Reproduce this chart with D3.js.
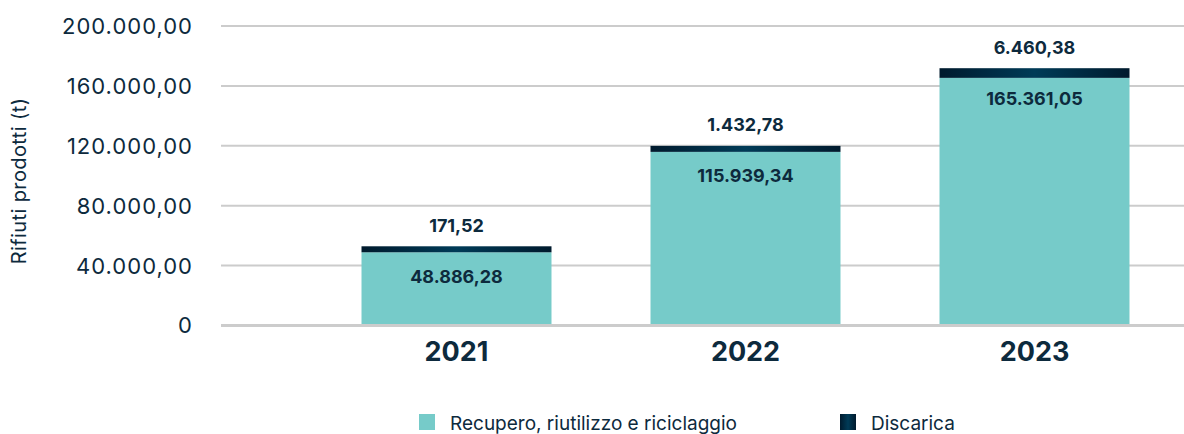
<!DOCTYPE html>
<html>
<head>
<meta charset="utf-8">
<script src="https://cdn.jsdelivr.net/npm/d3@7"></script>
<style>
  html, body { margin: 0; padding: 0; background: #fff; }
  svg { display: block; font-family: Inter, "Noto Sans", sans-serif; }
</style>
</head>
<body>
<svg id="chart" width="1184" height="434"></svg>
<script>
// Waste produced per year, in tonnes
const years = ["2021", "2022", "2023"];
const recupero = [48886.28, 115939.34, 165361.05];
const discarica = [171.52, 1432.78, 6460.38];
const yTicks = [0, 40000, 80000, 120000, 160000, 200000];
const seriesNames = ["Recupero, riutilizzo e riciclaggio", "Discarica"];

const textColor = "#0d2a3d";
const teal = "#76cbc9";
const gridColor = "#cccccc";

const it = d3.formatLocale({ decimal: ",", thousands: ".", grouping: [3], currency: ["€", ""] });
const fmt = it.format(",.2f");
const tickFmt = d => d === 0 ? "0" : fmt(d);

const svg = d3.select("#chart");

// Horizontal gradient for the landfill segment
const defs = svg.append("defs");
const grad = defs.append("linearGradient").attr("id", "darkGrad")
  .attr("x1", "0%").attr("x2", "100%").attr("y1", "0%").attr("y2", "0%");
grad.append("stop").attr("offset", "0%").attr("stop-color", "#001a2d");
grad.append("stop").attr("offset", "50%").attr("stop-color", "#003b57");
grad.append("stop").attr("offset", "100%").attr("stop-color", "#001a2d");

const x = d3.scaleBand().domain(years).range([312, 1179])
  .paddingInner(0.3426).paddingOuter(0.1713);
const y = d3.scaleLinear().domain([0, 200000]).range([325.5, 26]);

// Grid lines
svg.append("g").selectAll("line").data(yTicks).join("line")
  .attr("x1", 221).attr("x2", 1184)
  .attr("y1", d => y(d)).attr("y2", d => y(d))
  .attr("stroke", gridColor)
  .attr("stroke-width", d => d === 0 ? 3 : 2);

// Y axis labels
svg.append("g").selectAll("text").data(yTicks).join("text")
  .attr("x", 193).attr("y", d => y(d))
  .attr("dy", "0.36em")
  .attr("text-anchor", "end")
  .attr("font-size", 22)
  .attr("letter-spacing", "1px")
  .attr("fill", textColor)
  .text(tickFmt);

// Y axis title
svg.append("text")
  .attr("transform", "translate(26,181) rotate(-90)")
  .attr("text-anchor", "middle")
  .attr("font-size", 20)
  .attr("letter-spacing", "0.4px")
  .attr("fill", textColor)
  .text("Rifiuti prodotti (t)");

const rows = years.map((yr, i) => ({ yr, rec: recupero[i], dis: discarica[i] }));
const minSeg = 6; // keep thin landfill segments visible

const bars = svg.append("g").selectAll("g").data(rows).join("g");

bars.append("rect")
  .attr("x", d => x(d.yr))
  .attr("width", x.bandwidth())
  .attr("y", d => y(d.rec))
  .attr("height", d => y(0) - y(d.rec) - 1.5)
  .attr("fill", teal);

const segTop = d => Math.min(y(d.rec + d.dis), y(d.rec) - minSeg);

bars.append("rect")
  .attr("x", d => x(d.yr))
  .attr("width", x.bandwidth())
  .attr("y", segTop)
  .attr("height", d => y(d.rec) - segTop(d))
  .attr("fill", "url(#darkGrad)");

// Value labels
bars.append("text")
  .attr("x", d => x(d.yr) + x.bandwidth() / 2)
  .attr("y", d => segTop(d) + 30)
  .attr("dy", "0.36em")
  .attr("text-anchor", "middle")
  .attr("font-size", 18).attr("font-weight", 700)
  .attr("fill", textColor)
  .text(d => fmt(d.rec));

bars.append("text")
  .attr("x", d => x(d.yr) + x.bandwidth() / 2)
  .attr("y", d => segTop(d) - 21)
  .attr("dy", "0.36em")
  .attr("text-anchor", "middle")
  .attr("font-size", 18).attr("font-weight", 700)
  .attr("fill", textColor)
  .text(d => fmt(d.dis));

// Category labels
svg.append("g").selectAll("text").data(years).join("text")
  .attr("x", d => x(d) + x.bandwidth() / 2)
  .attr("y", 351)
  .attr("dy", "0.36em")
  .attr("text-anchor", "middle")
  .attr("font-size", 27).attr("font-weight", 700)
  .attr("fill", textColor)
  .text(d => d);

// Legend
const legendX = [419, 840];
const legendFill = [teal, "url(#darkGrad)"];
const legend = svg.append("g").selectAll("g").data(seriesNames).join("g")
  .attr("transform", (d, i) => `translate(${legendX[i]},414)`);
legend.append("rect").attr("width", 16).attr("height", 16)
  .attr("fill", (d, i) => legendFill[i]);
legend.append("text").attr("x", 31).attr("y", 9).attr("dy", "0.36em")
  .attr("font-size", 19).attr("fill", textColor)
  .text(d => d);
</script>
</body>
</html>
